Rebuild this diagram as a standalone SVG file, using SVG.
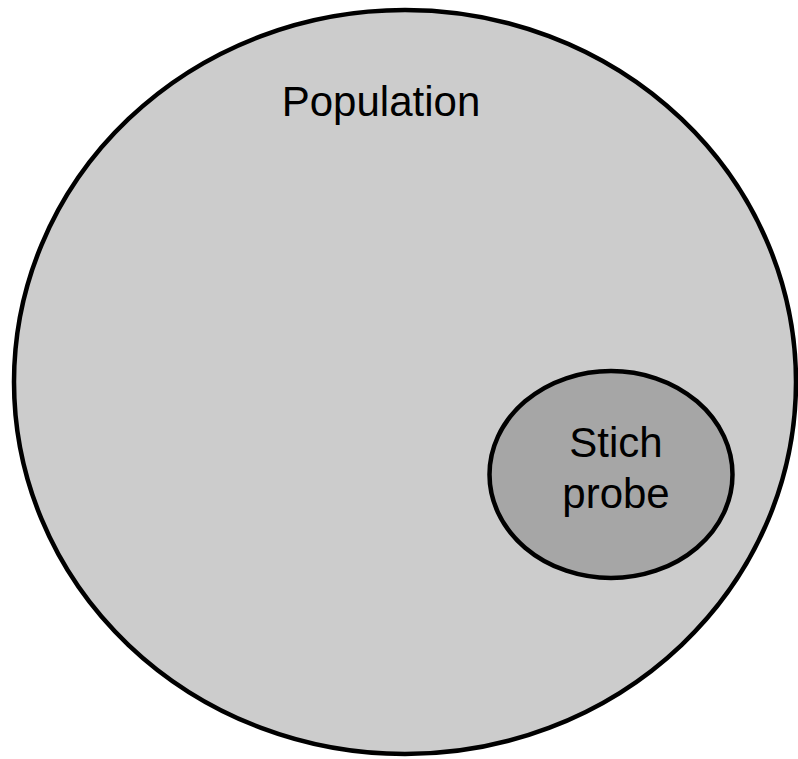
<svg xmlns="http://www.w3.org/2000/svg" width="798" height="759" viewBox="0 0 798 759">
<style>
.lbl{font-family:"Liberation Sans",Arial,sans-serif;font-size:42px;fill:#000;text-anchor:middle}
</style>
<rect width="798" height="759" fill="#fff"/>
<g id="population">
<ellipse cx="405" cy="382" rx="391" ry="372" fill="#cccccc" stroke="#000" stroke-width="4.5"/>
<text class="lbl" x="381" y="116">Population</text>
</g>
<g id="stichprobe">
<ellipse cx="611" cy="474.5" rx="121.5" ry="103.5" fill="#a6a6a6" stroke="#000" stroke-width="4.5"/>
<text class="lbl" x="616" y="457">Stich</text>
<text class="lbl" x="616" y="508">probe</text>
</g>
<g id="connectors"/>
</svg>
